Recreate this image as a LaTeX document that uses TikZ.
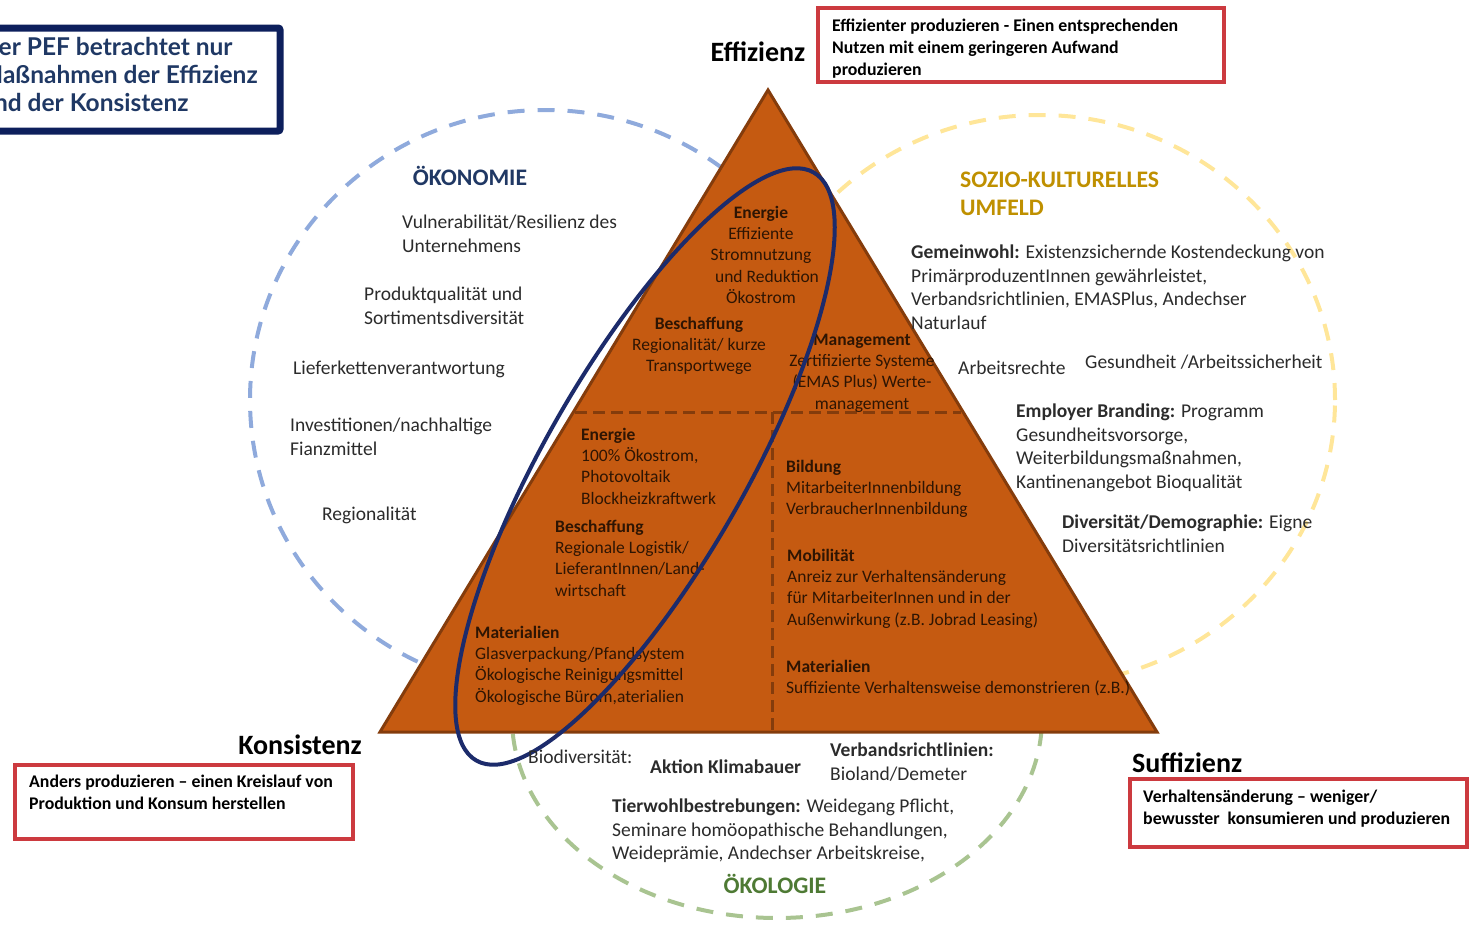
\documentclass[tikz,border=0pt]{standalone}
\usepackage{fontspec}
\setmainfont{Carlito}
\newfontfamily\gillfont{Lato}
\usetikzlibrary{positioning}
\definecolor{triorange}{HTML}{C55A11}
\definecolor{triborder}{HTML}{843C0C}
\definecolor{tritext}{HTML}{2E1503}
\definecolor{ovalnavy}{HTML}{1C2B6B}
\definecolor{ringblue}{HTML}{8FAADC}
\definecolor{ringyellow}{HTML}{FFE699}
\definecolor{ringgreen}{HTML}{A9C491}
\definecolor{txtgray}{HTML}{2B2B2B}
\definecolor{boxred}{HTML}{CC3A3F}
\definecolor{pefnavy}{HTML}{0D1F5C}
\definecolor{peftext}{HTML}{1F3864}
\definecolor{oekoblue}{HTML}{203864}
\definecolor{soziogold}{HTML}{BF9000}
\definecolor{oekogreen}{HTML}{4E7A34}

\begin{document}
\begin{tikzpicture}[x=1pt,y=1pt,
every node/.style={inner sep=0pt, anchor=north west, align=left},
txt/.style={font=\fontsize{19.5}{23.5}\selectfont, text=txtgray},
tri/.style={font=\fontsize{17.5}{21.2}\selectfont, text=tritext},
corner/.style={font=\fontsize{28}{32}\selectfont\bfseries, text=black, anchor=center},
redbox/.style={draw=boxred, line width=3.5pt},
infotxt/.style={font=\fontsize{17.8}{22}\selectfont\bfseries, text=black},
ring/.style={line width=4pt, dash pattern=on 17pt off 13pt},
sphere/.style={font=\fontsize{23.7}{28}\selectfont\bfseries},
split/.style={draw=triborder, line width=3pt, dash pattern=on 12pt off 6pt}
]
\path[use as bounding box, clip] (0,0) rectangle (1470,-926);

\draw[ring, draw=ringblue] (545,-400) ellipse [x radius=295, y radius=290];
\draw[ring, draw=ringyellow] (1040,-400) ellipse [x radius=295, y radius=285];
\draw[ring, draw=ringgreen] (777,-718) ellipse [x radius=265, y radius=200];

\draw[fill=triorange, draw=triborder, line width=3pt] (768,-90) coordinate (apex)
  -- (380,-732) coordinate (kon) -- (1157,-732) coordinate (suf) -- cycle;
\coordinate (midleft) at (575,-412);
\coordinate (midright) at (961,-412);
\coordinate (midtop) at (772,-412);
\coordinate (midbottom) at (772,-730);
\draw[split] (midleft) -- (midright);
\draw[split] (midtop) -- (midbottom);

\node[tri, anchor=north, align=center] (energietop) at (761,-206)
  {\textbf{Energie}\\Effiziente\\Stromnutzung\\\hspace*{12pt}und Reduktion\\Ökostrom};
\node[tri, anchor=north, align=center] (beschaffungtop) at (699,-317)
  {\textbf{Beschaffung}\\Regionalität/ kurze\\Transportwege};
\node[tri, anchor=north, align=center] (management) at (862,-334)
  {\textbf{Management}\\Zertifizierte Systeme\\(EMAS Plus) Werte-\\management};
\node[tri] (energieleft) at (581,-428)
  {\textbf{Energie}\\100\% Ökostrom,\\Photovoltaik\\Blockheizkraftwerk};
\node[tri] (beschaffungleft) at (555,-520)
  {\textbf{Beschaffung}\\Regionale Logistik/\\LieferantInnen/Land-\\wirtschaft};
\node[tri] (materialleft) at (475,-626)
  {\textbf{Materialien}\\Glasverpackung/Pfandsystem\\Ökologische Reinigungsmittel\\Ökologische Bürom,aterialien};
\node[tri] (bildung) at (786,-460)
  {\textbf{Bildung}\\MitarbeiterInnenbildung\\VerbraucherInnenbildung};
\node[tri] (mobilitaet) at (787,-549)
  {\textbf{Mobilität}\\Anreiz zur Verhaltensänderung\\für MitarbeiterInnen und in der\\Außenwirkung (z.B. Jobrad Leasing)};
\node[tri] (materialright) at (786,-660)
  {\textbf{Materialien}\\Suffiziente Verhaltensweise demonstrieren (z.B.)};

\draw[ovalnavy, line width=4pt, rotate around={60.15:(645,-466.5)}] (645,-466.5) ellipse [x radius=339, y radius=100];

\node[sphere, text=oekoblue, anchor=center] (oekonomie) at (470,-176) {ÖKONOMIE};
\node[txt] (vulnerab) at (402,-215) {Vulnerabilität/Resilienz des\\Unternehmens};
\node[txt] (produkt) at (364,-287) {Produktqualität und\\Sortimentsdiversität};
\node[txt] (liefer) at (293,-361) {Lieferkettenverantwortung};
\node[txt] (invest) at (290,-418) {Investitionen/nachhaltige\\Fianzmittel};
\node[txt] (regional) at (322,-507) {Regionalität};

\node[sphere, text=soziogold] (sozio) at (960,-172) {SOZIO-KULTURELLES\\UMFELD};
\node[txt] (gemeinwohl) at (911,-245) {\textbf{Gemeinwohl:} Existenzsichernde Kostendeckung von\\PrimärproduzentInnen gewährleistet,\\Verbandsrichtlinien, EMASPlus, Andechser\\Naturlauf};
\node[txt] (arbeitsrechte) at (958,-361) {Arbeitsrechte};
\node[txt] (gesundheit) at (1085,-355) {Gesundheit /Arbeitssicherheit};
\node[txt] (employer) at (1016,-404) {\textbf{Employer Branding:} Programm\\Gesundheitsvorsorge,\\Weiterbildungsmaßnahmen,\\Kantinenangebot Bioqualität};
\node[txt] (diversitaet) at (1062,-515) {\textbf{Diversität/Demographie:} Eigne\\Diversitätsrichtlinien};

\node[txt] (biodiv) at (528,-750) {Biodiversität:};
\node[txt] (klimabauer) at (650,-760) {\textbf{Aktion Klimabauer}};
\node[txt] (verband) at (830,-743) {\textbf{Verbandsrichtlinien:}\\Bioland/Demeter};
\node[txt] (tierwohl) at (612,-799) {\textbf{Tierwohlbestrebungen:} Weidegang Pflicht,\\Seminare homöopathische Behandlungen,\\Weideprämie, Andechser Arbeitskreise,};
\node[sphere, text=oekogreen, anchor=center] (oekologie) at (775,-884) {ÖKOLOGIE};

\node[corner] (effizienz) at (758,-52) {Effizienz};
\node[corner] (konsistenz) at (300,-745) {Konsistenz};
\node[corner, anchor=west] (suffizienz) at (1132,-763) {Suffizienz};

\draw[redbox] (818,-8) rectangle (1224,-82);
\node[infotxt] (efftext) at (832,-19) {Effizienter produzieren - Einen entsprechenden\\Nutzen mit einem geringeren Aufwand\\produzieren};
\draw[redbox] (15,-765) rectangle (353,-839);
\node[infotxt] (kontext) at (29,-775) {Anders produzieren – einen Kreislauf von\\Produktion und Konsum herstellen};
\draw[redbox] (1130,-779) rectangle (1467,-847);
\node[infotxt] (suftext) at (1143,-790) {Verhaltensänderung – weniger/\\bewusster\ \ konsumieren und produzieren};

\draw[pefnavy, line width=7pt, rounded corners=2pt] (-20,-28) rectangle (280,-131);
\node[font=\gillfont\fontsize{24.5}{28}\selectfont\bfseries, text=peftext] (peftext) at (-20,-37)
  {Der PEF betrachtet nur\\Maßnahmen der Effizienz\\und der Konsistenz};
\end{tikzpicture}
\end{document}
